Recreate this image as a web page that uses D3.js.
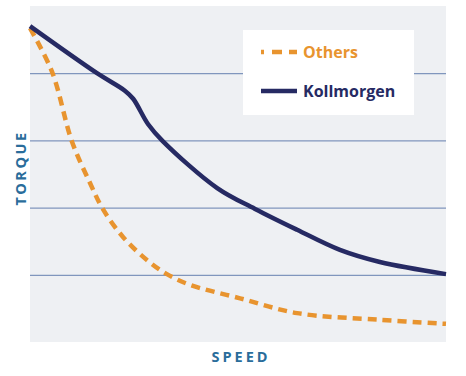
<!DOCTYPE html>
<html>
<head>
<meta charset="utf-8">
<script src="https://cdn.jsdelivr.net/npm/d3@7"></script>
<style>
  body { margin: 0; background: #fff; }
  svg text { font-family: "Open Sans", sans-serif; font-weight: 700; }
</style>
</head>
<body>
<div id="chart"></div>
<script>
// speed is 0..100, torque is 0..5 (no units shown on the picture)
const kollSpeed  = [0, 16.1, 22.8, 24.8, 28.4, 31.9, 45.0, 54.1, 64.2, 74.5, 84.1, 100];
const kollTorque = [4.70, 4.00, 3.74, 3.62, 3.24, 2.99, 2.29, 1.98, 1.67, 1.37, 1.19, 1.01];

const othSpeed  = [0, 5.3, 10.1, 14.4, 17.5, 22.4, 28.1, 32.9, 38.5, 50.5, 64.2, 84.1, 100];
const othTorque = [4.67, 4.02, 2.98, 2.37, 1.98, 1.56, 1.22, 1.01, 0.85, 0.65, 0.43, 0.33, 0.27];

const gridTicks = [1, 2, 3, 4];
const legendLabels = ["Others", "Kollmorgen"];

const W = 466, H = 376;
const margin = { top: 6, right: 20, bottom: 34, left: 30 };

const svg = d3.select("#chart").append("svg")
    .attr("width", W).attr("height", H);

const x = d3.scaleLinear().domain([0, 100]).range([margin.left, W - margin.right]);
const y = d3.scaleLinear().domain([0, 5]).range([H - margin.bottom, margin.top]);

// plot background
svg.append("rect")
    .attr("x", x(0)).attr("y", y(5))
    .attr("width", x(100) - x(0)).attr("height", y(0) - y(5))
    .attr("fill", "#eef0f3");

// horizontal grid lines
const grid = d3.axisLeft(y).tickValues(gridTicks).tickSize(-(x(100) - x(0))).tickFormat("");
svg.append("g")
    .attr("transform", `translate(${x(0)},0)`)
    .call(grid)
    .call(g => g.select(".domain").remove())
    .call(g => g.selectAll("line").attr("stroke", "#8096bd").attr("stroke-width", 1.3));

const line = d3.line().curve(d3.curveCatmullRom.alpha(0.5)).x(d => x(d[0])).y(d => y(d[1]));

svg.append("path")
    .datum(othSpeed.map((s, i) => [s, othTorque[i]]))
    .attr("d", line)
    .attr("fill", "none")
    .attr("stroke", "#e8942f")
    .attr("stroke-width", 4.5)
    .attr("stroke-dasharray", "9,6");

svg.append("path")
    .datum(kollSpeed.map((s, i) => [s, kollTorque[i]]))
    .attr("d", line)
    .attr("fill", "none")
    .attr("stroke", "#262a63")
    .attr("stroke-width", 4.5);

// legend
const lg = svg.append("g").attr("transform", "translate(243,30)");
lg.append("rect").attr("width", 171).attr("height", 85).attr("fill", "#fff");

const colors = ["#e8942f", "#262a63"];
legendLabels.forEach((lab, i) => {
  const yy = i == 0 ? 22 : 61;
  const s = lg.append("line")
      .attr("x1", 18).attr("x2", 54)
      .attr("y1", yy).attr("y2", yy)
      .attr("stroke", colors[i])
      .attr("stroke-width", 4.5);
  if (i == 0) s.attr("stroke-dasharray", "3,8,10,7,10");
  lg.append("text")
      .attr("x", 60).attr("y", yy + 6)
      .attr("fill", colors[i])
      .style("font-size", "16px")
      .text(lab);
});

// axis titles
svg.append("text")
    .attr("transform", `translate(26,${(y(0) + y(5)) / 2 - 6}) rotate(-90)`)
    .attr("text-anchor", "middle")
    .attr("fill", "#2a6d9b")
    .style("font-size", "14.5px")
    .style("letter-spacing", "2.5px")
    .text("TORQUE");

svg.append("text")
    .attr("x", (x(0) + x(100)) / 2 + 3)
    .attr("y", 362)
    .attr("text-anchor", "middle")
    .attr("fill", "#2a6d9b")
    .style("font-size", "14.5px")
    .style("letter-spacing", "3px")
    .text("SPEED");
</script>
</body>
</html>
